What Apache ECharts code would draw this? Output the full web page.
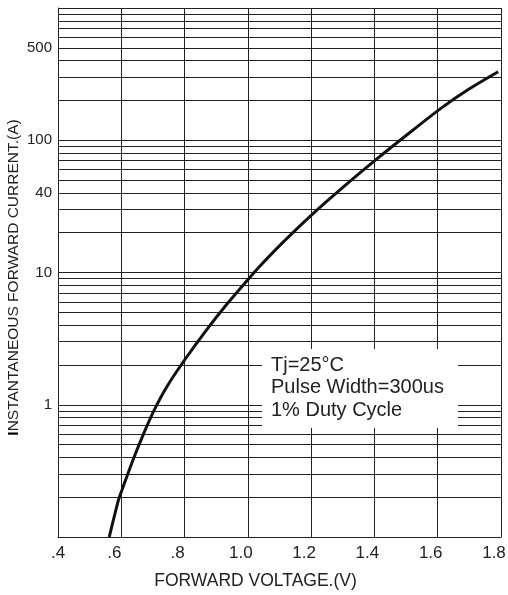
<!DOCTYPE html>
<html>
<head>
<meta charset="utf-8">
<script src="https://cdn.jsdelivr.net/npm/echarts@6/dist/echarts.min.js"></script>
<style>
html,body{margin:0;padding:0;background:#fff;}
#chart{width:508px;height:595px;}
</style>
</head>
<body>
<div id="chart"></div>
<script>
// Data
const voltage = [0.562, 0.591, 0.602, 0.637, 0.671, 0.704, 0.744, 0.800, 0.869, 0.936, 0.999, 1.037, 1.113, 1.201, 1.303, 1.404, 1.503, 1.611, 1.694, 1.791];
const current = [0.1, 0.19, 0.226, 0.382, 0.608, 0.912, 1.37, 2.18, 3.67, 5.85, 8.77, 11.1, 17.1, 27.2, 44.6, 71.0, 110, 175, 240, 330];

const xTickLabels = ['.4', '.6', '.8', '1.0', '1.2', '1.4', '1.6', '1.8'];
const yLabelValues = [1, 10, 40, 100, 500];
const decades = [0.1, 1, 10, 100];
const minorMultipliers = [2, 3, 4, 5, 6, 7, 8, 9];
const noteLines = ['Tj=25°C', 'Pulse Width=300us', '1% Duty Cycle'];

const FONT = 'Liberation Sans, Arial, sans-serif';
const minorValues = [];
decades.forEach(d => minorMultipliers.forEach(m => minorValues.push(d * m)));

const chart = echarts.init(document.getElementById('chart'));
chart.setOption({
  animation: false,
  backgroundColor: '#fff',
  grid: { left: 58, right: 7, top: 8, bottom: 58, containLabel: false, outerBoundsMode: 'none' },
  xAxis: {
    type: 'value',
    min: 0.4, max: 1.8, interval: 0.2,
    name: 'FORWARD VOLTAGE.(V)',
    nameLocation: 'middle',
    nameGap: 35,
    nameMoveOverlap: false,
    nameTextStyle: { fontFamily: FONT, fontSize: 17.5, color: '#222', padding: [0, 48, 0, 0] },
    axisLine: { show: true, lineStyle: { color: '#222', width: 1 } },
    axisTick: { show: false },
    splitLine: { show: true, lineStyle: { color: '#222', width: 1 } },
    axisLabel: {
      margin: 8,
      fontFamily: FONT, fontSize: 17, color: '#222',
      formatter: (v, i) => {
        const t = xTickLabels[i] !== undefined ? xTickLabels[i] : '';
        return i === 0 ? '{f|' + t + '}' : '{s|' + t + '}';
      },
      rich: {
        f: { fontFamily: FONT, fontSize: 17, color: '#222' },
        s: { fontFamily: FONT, fontSize: 17, color: '#222', padding: [0, 14, 0, 0] }
      }
    }
  },
  yAxis: {
    type: 'log',
    logBase: 10,
    min: 0.1, max: 1000,
    name: '{b|I}NSTANTANEOUS FORWARD CURRENT.(A)',
    nameLocation: 'middle',
    nameGap: 36,
    nameMoveOverlap: false,
    nameTextStyle: {
      fontFamily: FONT, fontSize: 15.5, color: '#222', padding: [0, 10, 0, 0],
      rich: { b: { fontFamily: FONT, fontSize: 15.5, fontWeight: 'bold', color: '#000' } }
    },
    axisLine: { show: true, lineStyle: { color: '#222', width: 1 } },
    axisTick: { show: false },
    splitLine: { show: true, lineStyle: { color: '#222', width: 1 } },
    minorTick: { show: false },
    minorSplitLine: { show: false },
    axisLabel: {
      customValues: yLabelValues,
      margin: 6,
      fontFamily: FONT, fontSize: 15, color: '#222',
      formatter: v => String(v)
    }
  },
  series: [{
    type: 'line',
    data: voltage.map((v, i) => [v, current[i]]),
    smooth: 0.3,
    showSymbol: false,
    symbol: 'none',
    clip: true,
    z: 5,
    lineStyle: { color: '#111', width: 3, join: 'round' },
    markLine: {
      silent: true,
      symbol: ['none', 'none'],
      label: { show: false },
      animation: false,
      z: 1,
      lineStyle: { color: '#222', width: 1, type: 'solid' },
      data: minorValues.map(v => ({ yAxis: v }))
    }
  }],
  graphic: [{
    type: 'group',
    left: 262, top: 349,
    z: 100,
    children: [
      { type: 'rect', shape: { x: 0, y: 0, width: 196, height: 79 }, style: { fill: '#fff' }, z: 100 },
      ...noteLines.map((t, i) => ({
        type: 'text',
        x: 9, y: 16 + i * 22.5,
        z: 101,
        style: { text: t, font: '20px ' + FONT, fill: '#222', textVerticalAlign: 'middle' }
      }))
    ]
  }]
});
</script>
</body>
</html>
